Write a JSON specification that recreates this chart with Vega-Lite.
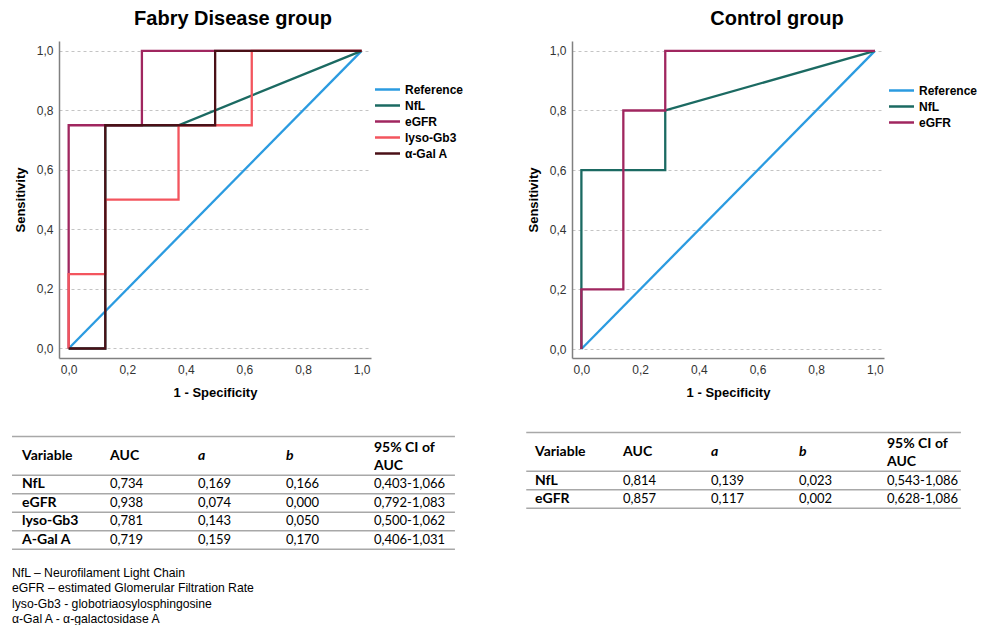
{
  "$schema": "https://vega.github.io/schema/vega-lite/v6.json",
  "background": "white",
  "padding": {"left": 11, "top": 9, "right": 5, "bottom": 0},
  "config": {
    "view": {"stroke": null},
    "font": "Liberation Sans",
    "axis": {
      "labelFont": "Liberation Sans", "labelFontSize": 12, "labelColor": "#333333",
      "titleFont": "Liberation Sans", "titleFontSize": 13, "titleFontWeight": "bold", "titleColor": "#000000",
      "ticks": false, "tickSize": 0, "domainColor": "#808080", "domainWidth": 1.5,
      "labelPadding": 6, "labelFlush": false,
      "gridColor": "#c4c4c4", "gridDash": [3, 3], "gridWidth": 1
    },
    "axisX": {"grid": false, "titlePadding": 11},
    "axisY": {"grid": true, "titlePadding": 9},
    "legend": {
      "orient": "none", "title": null, "symbolType": "M-2,0H2", "symbolSize": 156.25, "symbolStrokeWidth": 2.5,
      "symbolFillColor": "transparent",
      "labelFont": "Liberation Sans", "labelFontSize": 12, "labelFontWeight": "bold", "labelColor": "#000000",
      "labelOffset": 10, "rowPadding": 2, "padding": 0
    },
    "title": {"font": "Liberation Sans", "fontSize": 20, "fontWeight": "bold", "color": "#000000", "anchor": "middle"}
  },
  "datasets": {
    "fabry": [
      {"series": "Reference", "pt": 0, "fpr": 0, "tpr": 0},
      {"series": "Reference", "pt": 1, "fpr": 1, "tpr": 1},
      {"series": "NfL", "pt": 0, "fpr": 0, "tpr": 0},
      {"series": "NfL", "pt": 1, "fpr": 0.125, "tpr": 0},
      {"series": "NfL", "pt": 2, "fpr": 0.125, "tpr": 0.75},
      {"series": "NfL", "pt": 3, "fpr": 0.375, "tpr": 0.75},
      {"series": "NfL", "pt": 4, "fpr": 1, "tpr": 1},
      {"series": "eGFR", "pt": 0, "fpr": 0, "tpr": 0},
      {"series": "eGFR", "pt": 1, "fpr": 0, "tpr": 0.75},
      {"series": "eGFR", "pt": 2, "fpr": 0.25, "tpr": 0.75},
      {"series": "eGFR", "pt": 3, "fpr": 0.25, "tpr": 1},
      {"series": "eGFR", "pt": 4, "fpr": 1, "tpr": 1},
      {"series": "lyso-Gb3", "pt": 0, "fpr": 0, "tpr": 0},
      {"series": "lyso-Gb3", "pt": 1, "fpr": 0, "tpr": 0.25},
      {"series": "lyso-Gb3", "pt": 2, "fpr": 0.125, "tpr": 0.25},
      {"series": "lyso-Gb3", "pt": 3, "fpr": 0.125, "tpr": 0.5},
      {"series": "lyso-Gb3", "pt": 4, "fpr": 0.375, "tpr": 0.5},
      {"series": "lyso-Gb3", "pt": 5, "fpr": 0.375, "tpr": 0.75},
      {"series": "lyso-Gb3", "pt": 6, "fpr": 0.625, "tpr": 0.75},
      {"series": "lyso-Gb3", "pt": 7, "fpr": 0.625, "tpr": 1},
      {"series": "lyso-Gb3", "pt": 8, "fpr": 1, "tpr": 1},
      {"series": "α-Gal A", "pt": 0, "fpr": 0, "tpr": 0},
      {"series": "α-Gal A", "pt": 1, "fpr": 0.125, "tpr": 0},
      {"series": "α-Gal A", "pt": 2, "fpr": 0.125, "tpr": 0.75},
      {"series": "α-Gal A", "pt": 3, "fpr": 0.5, "tpr": 0.75},
      {"series": "α-Gal A", "pt": 4, "fpr": 0.5, "tpr": 1},
      {"series": "α-Gal A", "pt": 5, "fpr": 1, "tpr": 1}
    ],
    "control": [
      {"series": "Reference", "pt": 0, "fpr": 0, "tpr": 0},
      {"series": "Reference", "pt": 1, "fpr": 1, "tpr": 1},
      {"series": "NfL", "pt": 0, "fpr": 0, "tpr": 0},
      {"series": "NfL", "pt": 1, "fpr": 0, "tpr": 0.6},
      {"series": "NfL", "pt": 2, "fpr": 0.2857, "tpr": 0.6},
      {"series": "NfL", "pt": 3, "fpr": 0.2857, "tpr": 0.8},
      {"series": "NfL", "pt": 4, "fpr": 1, "tpr": 1},
      {"series": "eGFR", "pt": 0, "fpr": 0, "tpr": 0},
      {"series": "eGFR", "pt": 1, "fpr": 0, "tpr": 0.2},
      {"series": "eGFR", "pt": 2, "fpr": 0.1429, "tpr": 0.2},
      {"series": "eGFR", "pt": 3, "fpr": 0.1429, "tpr": 0.8},
      {"series": "eGFR", "pt": 4, "fpr": 0.2857, "tpr": 0.8},
      {"series": "eGFR", "pt": 5, "fpr": 0.2857, "tpr": 1},
      {"series": "eGFR", "pt": 6, "fpr": 1, "tpr": 1}
    ],
    "leftHeader": [
      {"c": 0, "r": -0.55, "t": "Variable"},
      {"c": 1, "r": -0.55, "t": "AUC"},
      {"c": 2, "r": -0.55, "t": "a"},
      {"c": 3, "r": -0.55, "t": "b"},
      {"c": 4, "r": -1, "t": "95% CI of"},
      {"c": 4, "r": 0, "t": "AUC"}
    ],
    "leftBody": [
      {"c": 0, "r": 1, "t": "NfL"}, {"c": 1, "r": 1, "t": "0,734"}, {"c": 2, "r": 1, "t": "0,169"}, {"c": 3, "r": 1, "t": "0,166"}, {"c": 4, "r": 1, "t": "0,403-1,066"},
      {"c": 0, "r": 2, "t": "eGFR"}, {"c": 1, "r": 2, "t": "0,938"}, {"c": 2, "r": 2, "t": "0,074"}, {"c": 3, "r": 2, "t": "0,000"}, {"c": 4, "r": 2, "t": "0,792-1,083"},
      {"c": 0, "r": 3, "t": "lyso-Gb3"}, {"c": 1, "r": 3, "t": "0,781"}, {"c": 2, "r": 3, "t": "0,143"}, {"c": 3, "r": 3, "t": "0,050"}, {"c": 4, "r": 3, "t": "0,500-1,062"},
      {"c": 0, "r": 4, "t": "A-Gal A"}, {"c": 1, "r": 4, "t": "0,719"}, {"c": 2, "r": 4, "t": "0,159"}, {"c": 3, "r": 4, "t": "0,170"}, {"c": 4, "r": 4, "t": "0,406-1,031"}
    ],
    "leftRules": [{"r": -1.6}, {"r": 0.5}, {"r": 1.5}, {"r": 2.5}, {"r": 3.5}, {"r": 4.5}],
    "rightBody": [
      {"c": 0, "r": 1, "t": "NfL"}, {"c": 1, "r": 1, "t": "0,814"}, {"c": 2, "r": 1, "t": "0,139"}, {"c": 3, "r": 1, "t": "0,023"}, {"c": 4, "r": 1, "t": "0,543-1,086"},
      {"c": 0, "r": 2, "t": "eGFR"}, {"c": 1, "r": 2, "t": "0,857"}, {"c": 2, "r": 2, "t": "0,117"}, {"c": 3, "r": 2, "t": "0,002"}, {"c": 4, "r": 2, "t": "0,628-1,086"}
    ],
    "rightRules": [{"r": -1.6}, {"r": 0.5}, {"r": 1.5}, {"r": 2.5}],
    "notes": [
      {"line": 1, "t": "NfL – Neurofilament Light Chain"},
      {"line": 2, "t": "eGFR – estimated Glomerular Filtration Rate"},
      {"line": 3, "t": "lyso-Gb3 - globotriaosylosphingosine"},
      {"line": 4, "t": "α-Gal A - α-galactosidase A"}
    ]
  },
  "bounds": "flush",
  "columns": 2,
  "spacing": {"row": 73, "column": 201},
  "resolve": {"scale": {"color": "independent"}, "legend": {"color": "independent"}},
  "concat": [
    {
      "width": 312, "height": 317,
      "title": {"text": "Fabry Disease group", "dx": 18, "offset": 12},
      "data": {"name": "fabry"},
      "mark": {"type": "line", "strokeWidth": 2.3},
      "encoding": {
        "x": {"field": "fpr", "type": "quantitative", "scale": {"domain": [-0.033, 1.032], "nice": false, "zero": false},
              "axis": {"title": "1 - Specificity", "values": [0, 0.2, 0.4, 0.6, 0.8, 1], "labelExpr": "replace(format(datum.value, '.1f'), '.', ',')"}},
        "y": {"field": "tpr", "type": "quantitative", "scale": {"domain": [-0.032, 1.033], "nice": false, "zero": false},
              "axis": {"title": "Sensitivity", "values": [0, 0.2, 0.4, 0.6, 0.8, 1], "labelExpr": "replace(format(datum.value, '.1f'), '.', ',')"}},
        "color": {"field": "series", "type": "nominal",
                  "scale": {"domain": ["Reference", "NfL", "eGFR", "lyso-Gb3", "α-Gal A"], "range": ["#2b9be0", "#1b6a62", "#a0265f", "#f3555e", "#4a1017"]},
                  "legend": {"legendX": 321, "legendY": 41}},
        "order": {"field": "pt", "type": "quantitative"}
      }
    },
    {
      "width": 312, "height": 317,
      "title": {"text": "Control group", "dx": 49, "offset": 12},
      "data": {"name": "control"},
      "mark": {"type": "line", "strokeWidth": 2.3},
      "encoding": {
        "x": {"field": "fpr", "type": "quantitative", "scale": {"domain": [-0.032, 1.031], "nice": false, "zero": false},
              "axis": {"title": "1 - Specificity", "values": [0, 0.2, 0.4, 0.6, 0.8, 1], "labelExpr": "replace(format(datum.value, '.1f'), '.', ',')"}},
        "y": {"field": "tpr", "type": "quantitative", "scale": {"domain": [-0.03, 1.033], "nice": false, "zero": false},
              "axis": {"title": "Sensitivity", "values": [0, 0.2, 0.4, 0.6, 0.8, 1], "labelExpr": "replace(format(datum.value, '.1f'), '.', ',')"}},
        "color": {"field": "series", "type": "nominal",
                  "scale": {"domain": ["Reference", "NfL", "eGFR"], "range": ["#2b9be0", "#1b6a62", "#a0265f"]},
                  "legend": {"legendX": 322, "legendY": 42}},
        "order": {"field": "pt", "type": "quantitative"}
      }
    },
    {
      "width": 312, "height": 195,
      "resolve": {"scale": {"y": "independent"}},
      "layer": [
        {
          "data": {"name": "leftRules"},
          "mark": {"type": "rule", "color": "#a8a8a8", "strokeWidth": 1.5},
          "encoding": {
            "x": {"datum": -0.114, "type": "quantitative", "scale": {"domain": [0.42, 3.966], "nice": false, "zero": false}, "axis": null},
            "x2": {"datum": 4.92},
            "y": {"field": "r", "type": "quantitative", "scale": {"domain": [-1.892, 8.649], "reverse": true, "nice": false, "zero": false}, "axis": null}
          }
        },
        {
          "data": {"name": "leftHeader"},
          "transform": [{"filter": "datum.t !== 'a' && datum.t !== 'b'"}],
          "mark": {"type": "text", "align": "left", "baseline": "middle", "font": "Lato", "fontSize": 14, "fontWeight": "bold", "color": "#000000"},
          "encoding": {
            "x": {"field": "c", "type": "quantitative", "scale": {"domain": [0.42, 3.966], "nice": false, "zero": false}, "axis": null},
            "y": {"field": "r", "type": "quantitative", "scale": {"domain": [-1.892, 8.649], "reverse": true, "nice": false, "zero": false}, "axis": null},
            "text": {"field": "t"}
          }
        },
        {
          "data": {"name": "leftHeader"},
          "transform": [{"filter": "datum.t === 'a' || datum.t === 'b'"}],
          "mark": {"type": "text", "align": "left", "baseline": "middle", "font": "Lato", "fontSize": 14, "fontWeight": "bold", "fontStyle": "italic", "color": "#000000"},
          "encoding": {
            "x": {"field": "c", "type": "quantitative", "scale": {"domain": [0.42, 3.966], "nice": false, "zero": false}, "axis": null},
            "y": {"field": "r", "type": "quantitative", "scale": {"domain": [-1.892, 8.649], "reverse": true, "nice": false, "zero": false}, "axis": null},
            "text": {"field": "t"}
          }
        },
        {
          "data": {"name": "leftBody"},
          "transform": [{"filter": "datum.c === 0"}],
          "mark": {"type": "text", "align": "left", "baseline": "middle", "font": "Lato", "fontSize": 14, "fontWeight": "bold", "color": "#000000"},
          "encoding": {
            "x": {"field": "c", "type": "quantitative", "scale": {"domain": [0.42, 3.966], "nice": false, "zero": false}, "axis": null},
            "y": {"field": "r", "type": "quantitative", "scale": {"domain": [-1.892, 8.649], "reverse": true, "nice": false, "zero": false}, "axis": null},
            "text": {"field": "t"}
          }
        },
        {
          "data": {"name": "leftBody"},
          "transform": [{"filter": "datum.c !== 0"}],
          "mark": {"type": "text", "align": "left", "baseline": "middle", "font": "Lato", "fontSize": 13, "color": "#000000"},
          "encoding": {
            "x": {"field": "c", "type": "quantitative", "scale": {"domain": [0.42, 3.966], "nice": false, "zero": false}, "axis": null},
            "y": {"field": "r", "type": "quantitative", "scale": {"domain": [-1.892, 8.649], "reverse": true, "nice": false, "zero": false}, "axis": null},
            "text": {"field": "t"}
          }
        },
        {
          "data": {"name": "notes"},
          "mark": {"type": "text", "align": "left", "baseline": "middle", "font": "Liberation Sans", "fontSize": 12.2, "color": "#000000"},
          "encoding": {
            "x": {"datum": -0.114, "type": "quantitative", "scale": {"domain": [0.42, 3.966], "nice": false, "zero": false}, "axis": null},
            "y": {"field": "line", "type": "quantitative", "scale": {"domain": [-8.26, 4.457], "reverse": true, "nice": false, "zero": false}, "axis": null},
            "text": {"field": "t"}
          }
        }
      ]
    },
    {
      "width": 312, "height": 195,
      "layer": [
        {
          "data": {"name": "rightRules"},
          "mark": {"type": "rule", "color": "#a8a8a8", "strokeWidth": 1.5},
          "encoding": {
            "x": {"datum": -0.1, "type": "quantitative", "scale": {"domain": [0.42, 3.966], "nice": false, "zero": false}, "axis": null},
            "x2": {"datum": 4.84},
            "y": {"field": "r", "type": "quantitative", "scale": {"domain": [-1.676, 8.865], "reverse": true, "nice": false, "zero": false}, "axis": null}
          }
        },
        {
          "data": {"name": "leftHeader"},
          "transform": [{"filter": "datum.t !== 'a' && datum.t !== 'b'"}],
          "mark": {"type": "text", "align": "left", "baseline": "middle", "font": "Lato", "fontSize": 14, "fontWeight": "bold", "color": "#000000"},
          "encoding": {
            "x": {"field": "c", "type": "quantitative", "axis": null},
            "y": {"field": "r", "type": "quantitative", "axis": null},
            "text": {"field": "t"}
          }
        },
        {
          "data": {"name": "leftHeader"},
          "transform": [{"filter": "datum.t === 'a' || datum.t === 'b'"}],
          "mark": {"type": "text", "align": "left", "baseline": "middle", "font": "Lato", "fontSize": 14, "fontWeight": "bold", "fontStyle": "italic", "color": "#000000"},
          "encoding": {
            "x": {"field": "c", "type": "quantitative", "axis": null},
            "y": {"field": "r", "type": "quantitative", "axis": null},
            "text": {"field": "t"}
          }
        },
        {
          "data": {"name": "rightBody"},
          "transform": [{"filter": "datum.c === 0"}],
          "mark": {"type": "text", "align": "left", "baseline": "middle", "font": "Lato", "fontSize": 14, "fontWeight": "bold", "color": "#000000"},
          "encoding": {
            "x": {"field": "c", "type": "quantitative", "axis": null},
            "y": {"field": "r", "type": "quantitative", "axis": null},
            "text": {"field": "t"}
          }
        },
        {
          "data": {"name": "rightBody"},
          "transform": [{"filter": "datum.c !== 0"}],
          "mark": {"type": "text", "align": "left", "baseline": "middle", "font": "Lato", "fontSize": 13, "color": "#000000"},
          "encoding": {
            "x": {"field": "c", "type": "quantitative", "axis": null},
            "y": {"field": "r", "type": "quantitative", "axis": null},
            "text": {"field": "t"}
          }
        }
      ]
    }
  ]
}
